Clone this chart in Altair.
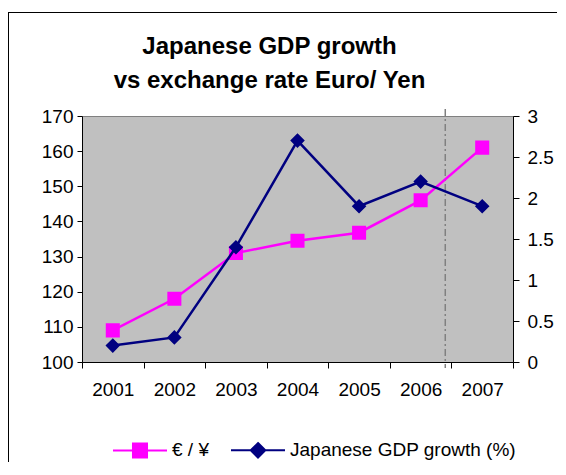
import altair as alt
import pandas as pd

years = [2001, 2002, 2003, 2004, 2005, 2006, 2007]
euro_yen = [109, 118, 131, 134.5, 136.8, 146, 161]
gdp_growth = [0.2, 0.3, 1.4, 2.7, 1.9, 2.2, 1.9]
series_names = ["€ / ¥", "Japanese GDP growth (%)"]
series_colors = ["#FF00FF", "#000080"]
forecast_boundary = [2006.4]
left_ticks = [100, 110, 120, 130, 140, 150, 160, 170]
right_ticks = [0, 0.5, 1, 1.5, 2, 2.5, 3]

df = pd.DataFrame({
    "year": years * 2,
    "value": euro_yen + gdp_growth,
    "series": [series_names[0]] * len(years) + [series_names[1]] * len(years),
})

W, H = 431, 246
FONT = "Liberation Sans"

square_path = "M-1,0H1M-0.26,-0.26H0.26V0.26H-0.26Z"
diamond_path = "M-1,0H1M0,-0.27L0.27,0L0,0.27L-0.27,0Z"
SYM = 2916

x_tick_values = [y - 0.5 for y in years] + [years[-1] + 0.5]
x_enc = alt.X(
    "year:Q",
    scale=alt.Scale(domain=[years[0] - 0.5, years[-1] + 0.5], nice=False, zero=False),
    axis=alt.Axis(
        values=x_tick_values,
        labelExpr="datum.value > 2007 ? '' : format(datum.value + 0.5, 'd')",
        labelOffset=W / 14,
        tickSize=6, labelPadding=12, labelFontSize=19, labelColor="black",
        domainColor="black", tickColor="black", grid=False, title=None,
        labelFlush=False, labelOverlap=False, labelBound=False,
    ),
)

legend = alt.Legend(
    title=None, orient="none", legendX=30, legendY=306, direction="horizontal",
    symbolSize=SYM, symbolStrokeWidth=2, labelFontSize=19, labelColor="black",
    labelFont=FONT, labelOffset=4, columnPadding=18, symbolOpacity=1, labelLimit=400,
)
fill_enc = alt.Fill("series:N", scale=alt.Scale(domain=series_names, range=series_colors), legend=legend)
stroke_enc = alt.Stroke("series:N", scale=alt.Scale(domain=series_names, range=series_colors), legend=legend)
shape_enc = alt.Shape("series:N", scale=alt.Scale(domain=series_names, range=[square_path, diamond_path]), legend=legend)

base = alt.Chart(df)

y_left = alt.Y(
    "value:Q",
    scale=alt.Scale(domain=[100, 170], nice=False, zero=False),
    axis=alt.Axis(orient="left", values=left_ticks, format="d", tickSize=5, labelPadding=4,
                  labelFontSize=19, labelColor="black", domainColor="black", tickColor="black",
                  grid=False, title=None, labelFlush=False),
)
y_right = alt.Y(
    "value:Q",
    scale=alt.Scale(domain=[0, 3], nice=False, zero=False),
    axis=alt.Axis(orient="right", values=right_ticks, format="~g", tickSize=6, labelPadding=8,
                  labelFontSize=19, labelColor="black", domainColor="black", tickColor="black",
                  grid=False, title=None, labelFlush=False),
)

euro_layer = alt.layer(
    base.mark_line(color=series_colors[0], strokeWidth=2.5).encode(x=x_enc, y=y_left),
    base.mark_point(filled=True, opacity=1, strokeWidth=0, size=SYM).encode(
        x=x_enc, y=y_left, fill=fill_enc, stroke=stroke_enc, shape=shape_enc),
).transform_filter(alt.datum.series == series_names[0])

gdp_layer = alt.layer(
    base.mark_line(color=series_colors[1], strokeWidth=2.5).encode(x=x_enc, y=y_right),
    base.mark_point(filled=True, opacity=1, strokeWidth=0, size=SYM).encode(
        x=x_enc, y=y_right, fill=fill_enc, stroke=stroke_enc, shape=shape_enc),
).transform_filter(alt.datum.series == series_names[1])

rule = alt.Chart(pd.DataFrame({"year": forecast_boundary})).mark_rule(
    color="#808080", strokeDash=[7, 3, 2, 3], strokeWidth=1.5
).encode(x=x_enc, y=alt.value(-7), y2=alt.value(252))

one = pd.DataFrame({"k": [0]})
frame_left = alt.Chart(one).mark_rect(color="black").encode(
    x=alt.value(-74), x2=alt.value(-73), y=alt.value(-104), y2=alt.value(346))
frame_top = alt.Chart(one).mark_rect(color="black").encode(
    x=alt.value(-74), x2=alt.value(475), y=alt.value(-104), y2=alt.value(-103))

chart = alt.layer(frame_left, frame_top, rule, euro_layer, gdp_layer).resolve_scale(
    y="independent"
).properties(
    width=W, height=H,
    autosize=alt.AutoSizeParams(type="none"),
    padding={"left": 74, "top": 108, "right": 44, "bottom": 100},
    title=alt.TitleParams(
        text=["Japanese GDP growth", "vs exchange rate Euro/ Yen"],
        fontSize=24, fontWeight="bold", font=FONT, color="black",
        anchor="middle", dx=-28, offset=0, dy=81, lineHeight=34,
    ),
).configure(font=FONT).configure_view(fill="#C0C0C0", stroke="#808080")

chart.save("out.html", embed_options={"renderer": "svg", "actions": False})
